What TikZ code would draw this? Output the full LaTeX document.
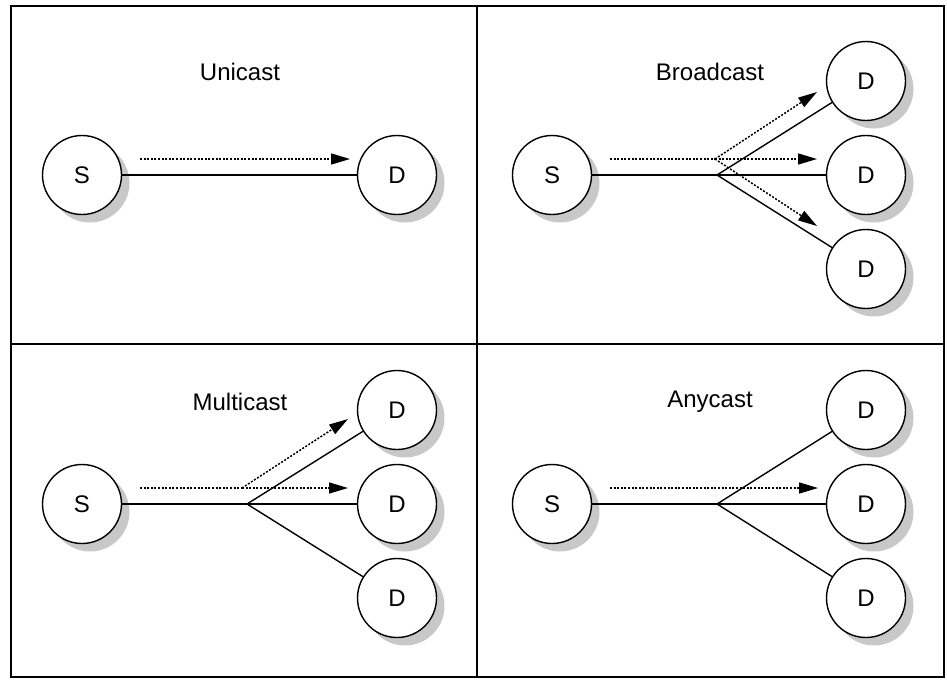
\documentclass[tikz,border=0pt]{standalone}
\usepackage{fontspec}
\setmainfont{Liberation Sans}
\usetikzlibrary{arrows.meta,shadows}
\definecolor{shadowgray}{RGB}{200,200,200}
\tikzset{
  host/.style={circle, draw=black, line width=1.4pt, fill=white, minimum size=79pt, inner sep=0pt,
    font=\fontsize{24}{26}\selectfont,
    drop shadow={shadow xshift=8pt, shadow yshift=-8pt, fill=shadowgray, opacity=1}},
  link/.style={draw=black, line width=1.4pt},
  flow/.style={draw=black, line width=1.5pt, dash pattern=on 2pt off 1.6pt},
  flowtip/.style={flow, -{Triangle[length=19pt,width=11pt]}},
  frameline/.style={draw=black, line width=1.8pt},
  title/.style={font=\fontsize{24}{26}\selectfont, inner sep=0pt}
}
\begin{document}
\begin{tikzpicture}[x=1pt,y=-1pt]
\useasboundingbox (0,0) rectangle (947,680);
% frame
\draw[frameline] (11,6) rectangle (944,677);
\draw[frameline] (477,6) -- (477,677);
\draw[frameline] (11,344) -- (944,344);

% ---------- Unicast ----------
\node[title] (tu) at (240,72) {Unicast};
\node[host] (us) at (82,175) {S};
\node[host] (ud) at (397,175) {D};
\draw[link] (us) -- (ud);
\coordinate (ua) at (140,159);
\coordinate (ub) at (350,159);
\draw[flowtip] (ua) -- (ub);

% ---------- Broadcast ----------
\node[title] (tb) at (710,72) {Broadcast};
\node[host] (bs) at (552,175) {S};
\node[host] (bd1) at (866,81) {D};
\node[host] (bd2) at (866,175) {D};
\node[host] (bd3) at (866,269) {D};
\coordinate (bbr) at (717,175);
\draw[link] (bs) -- (bbr);
\draw[link] (bbr) -- (bd1);
\draw[link] (bbr) -- (bd2);
\draw[link] (bbr) -- (bd3);
\coordinate (ba) at (610,159);
\coordinate (bdb) at (715,159);
\coordinate (bt1) at (817,92);
\coordinate (bt2) at (817,159);
\coordinate (bt3) at (817,226);
\draw[flow] (ba) -- (bdb);
\draw[flowtip] (bdb) -- (bt1);
\draw[flowtip] (bdb) -- (bt2);
\draw[flowtip] (bdb) -- (bt3);

% ---------- Multicast ----------
\node[title] (tm) at (240,402) {Multicast};
\node[host] (ms) at (82,504) {S};
\node[host] (md1) at (397,410) {D};
\node[host] (md2) at (397,504) {D};
\node[host] (md3) at (397,598) {D};
\coordinate (mbr) at (247,504);
\draw[link] (ms) -- (mbr);
\draw[link] (mbr) -- (md1);
\draw[link] (mbr) -- (md2);
\draw[link] (mbr) -- (md3);
\coordinate (ma) at (140,488);
\coordinate (mdb) at (242,488);
\coordinate (mt1) at (348,419);
\coordinate (mt2) at (348,488);
\draw[flow] (ma) -- (mdb);
\draw[flowtip] (mdb) -- (mt1);
\draw[flowtip] (mdb) -- (mt2);

% ---------- Anycast ----------
\node[title] (ta) at (710,402) {Anycast};
\node[host] (as) at (552,504) {S};
\node[host] (ad1) at (866,410) {D};
\node[host] (ad2) at (866,504) {D};
\node[host] (ad3) at (866,598) {D};
\coordinate (abr) at (717,504);
\draw[link] (as) -- (abr);
\draw[link] (abr) -- (ad1);
\draw[link] (abr) -- (ad2);
\draw[link] (abr) -- (ad3);
\coordinate (aa) at (610,488);
\coordinate (at) at (818,488);
\draw[flowtip] (aa) -- (at);
\end{tikzpicture}
\end{document}
